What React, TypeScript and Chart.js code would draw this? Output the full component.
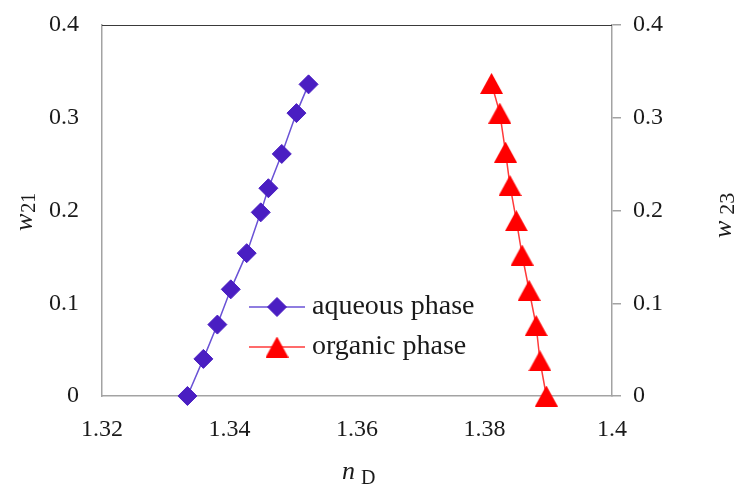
import React, { useEffect, useRef } from 'react';
import { Chart, registerables } from 'chart.js';

Chart.register(...registerables);

// ---- data ----
const aqueousN = [1.3334, 1.3359, 1.3381, 1.3402, 1.3427, 1.3449, 1.3461, 1.3482, 1.3505, 1.3524];
const aqueousW = [0, 0.040, 0.077, 0.115, 0.154, 0.198, 0.224, 0.261, 0.305, 0.336];
const organicN = [1.3897, 1.3887, 1.3881, 1.3870, 1.3859, 1.3850, 1.3840, 1.3833, 1.3824, 1.3811];
const organicW = [0, 0.038, 0.076, 0.114, 0.152, 0.189, 0.227, 0.263, 0.305, 0.337];

const xTicks = [1.32, 1.34, 1.36, 1.38, 1.4];
const xTickLabels = ['1.32', '1.34', '1.36', '1.38', '1.4'];
const yTicks = [0, 0.1, 0.2, 0.3, 0.4];
const yTickLabels = ['0', '0.1', '0.2', '0.3', '0.4'];

const seriesNames = ['aqueous phase', 'organic phase'];
const xTitle = ['n', 'D'];
const yTitleLeft = ['w', '21'];
const yTitleRight = ['w', '23'];

const FONT = '"Liberation Serif", "Times New Roman", serif';
const PURPLE = '#4a1ec2';
const PURPLE_LINE = '#6a52d6';
const RED = '#ff0000';
const RED_LINE = '#ff3a3a';
const AXIS = '#a3a3a3';
const TEXT = '#1a1a1a';

function makeTriangle(color: string, w: number, h: number) {
  const c = document.createElement('canvas');
  c.width = w;
  c.height = h;
  const g = c.getContext('2d')!;
  g.fillStyle = color;
  g.beginPath();
  g.moveTo(w / 2, 0);
  g.lineTo(w, h);
  g.lineTo(0, h);
  g.closePath();
  g.fill();
  return c;
}

function drawDiamond(ctx: CanvasRenderingContext2D, x: number, y: number, r: number, color: string) {
  ctx.save();
  ctx.fillStyle = color;
  ctx.strokeStyle = color;
  ctx.lineWidth = 1;
  ctx.beginPath();
  ctx.moveTo(x - r, y);
  ctx.lineTo(x, y - r);
  ctx.lineTo(x + r, y);
  ctx.lineTo(x, y + r);
  ctx.closePath();
  ctx.fill();
  ctx.stroke();
  ctx.restore();
}

export default function App() {
  const ref = useRef<HTMLCanvasElement | null>(null);

  useEffect(() => {
    document.body.style.margin = '0';
    const canvas = ref.current;
    if (!canvas) return;
    const tri = makeTriangle(RED, 23, 21);

    const overlay = {
      id: 'overlay',
      afterDraw(chart: any) {
        const ctx: CanvasRenderingContext2D = chart.ctx;
        const a = chart.chartArea;
        ctx.save();
        // top border of plot area
        ctx.strokeStyle = '#3a3a3a';
        ctx.lineWidth = 1;
        ctx.beginPath();
        ctx.moveTo(a.left, Math.round(a.top) + 0.5);
        ctx.lineTo(a.right, Math.round(a.top) + 0.5);
        ctx.stroke();

        // legend
        const lx0 = 249, lx1 = 305, mx = 277, tx = 312;
        const rows = [307, 347];
        ctx.lineWidth = 1.5;
        ctx.strokeStyle = PURPLE_LINE;
        ctx.beginPath();
        ctx.moveTo(lx0, rows[0]);
        ctx.lineTo(lx1, rows[0]);
        ctx.stroke();
        drawDiamond(ctx, mx, rows[0], 9.5, PURPLE);
        ctx.strokeStyle = RED_LINE;
        ctx.beginPath();
        ctx.moveTo(lx0, rows[1]);
        ctx.lineTo(lx1, rows[1]);
        ctx.stroke();
        ctx.drawImage(tri, mx - tri.width / 2, rows[1] - tri.height / 2);
        ctx.fillStyle = TEXT;
        ctx.font = `28px ${FONT}`;
        ctx.textAlign = 'left';
        ctx.textBaseline = 'middle';
        ctx.fillText(seriesNames[0], tx, rows[0]);
        ctx.fillText(seriesNames[1], tx, rows[1]);

        // axis titles
        ctx.textBaseline = 'alphabetic';
        // x title
        ctx.font = `italic 26px ${FONT}`;
        ctx.fillText(xTitle[0], 342, 479);
        ctx.font = `20px ${FONT}`;
        ctx.fillText(xTitle[1], 361, 484);

        // left y title
        ctx.save();
        ctx.translate(32, 231);
        ctx.rotate(-Math.PI / 2);
        ctx.font = `italic 26px ${FONT}`;
        ctx.fillText(yTitleLeft[0], 0, 0);
        let w = ctx.measureText(yTitleLeft[0]).width;
        ctx.font = `20px ${FONT}`;
        ctx.fillText(yTitleLeft[1], w + 1, 3);
        ctx.restore();

        // right y title
        ctx.save();
        ctx.translate(731, 238);
        ctx.rotate(-Math.PI / 2);
        ctx.font = `italic 26px ${FONT}`;
        ctx.fillText(yTitleRight[0], 0, 0);
        w = ctx.measureText(yTitleRight[0]).width;
        ctx.font = `22px ${FONT}`;
        ctx.fillText(yTitleRight[1], w + 6, 3);
        ctx.restore();

        ctx.restore();
      },
    };

    const tickFont = { family: FONT, size: 24 };

    const chart = new Chart(canvas, {
      type: 'line',
      data: {
        datasets: [
          {
            label: seriesNames[0],
            data: aqueousN.map((x, i) => ({ x, y: aqueousW[i] })),
            borderColor: PURPLE_LINE,
            borderWidth: 1.5,
            backgroundColor: PURPLE,
            pointStyle: 'rectRot',
            pointRadius: 9.5,
            pointBorderWidth: 1,
            pointBorderColor: PURPLE,
            pointBackgroundColor: PURPLE,
            tension: 0,
            clip: false,
            yAxisID: 'y',
          },
          {
            label: seriesNames[1],
            data: organicN.map((x, i) => ({ x, y: organicW[i] })),
            borderColor: RED_LINE,
            borderWidth: 1.5,
            backgroundColor: RED,
            pointStyle: tri as any,
            pointRadius: 11,
            tension: 0,
            clip: false,
            yAxisID: 'y2',
          },
        ],
      },
      options: {
        responsive: false,
        animation: false,
        devicePixelRatio: 1,
        layout: { padding: { top: 25, left: 0, right: 0, bottom: 0 } },
        plugins: { legend: { display: false }, tooltip: { enabled: false } },
        scales: {
          x: {
            type: 'linear',
            position: 'bottom',
            min: 1.32,
            max: 1.4,
            afterBuildTicks: (s: any) => {
              s.ticks = xTicks.map((v) => ({ value: v }));
            },
            afterFit: (s: any) => {
              s.height = 88;
              s.paddingLeft = 0;
              s.paddingRight = 0;
            },
            ticks: {
              callback: (_v: any, i: number) => xTickLabels[i],
              font: tickFont,
              color: TEXT,
              padding: 19,
              maxRotation: 0,
              autoSkip: false,
            },
            grid: { display: false, drawTicks: false },
            border: { display: true, color: AXIS, width: 1.5 },
          },
          y: {
            type: 'linear',
            position: 'left',
            min: 0,
            max: 0.4,
            afterBuildTicks: (s: any) => {
              s.ticks = yTicks.map((v) => ({ value: v }));
            },
            afterFit: (s: any) => {
              s.width = 102;
              s.paddingTop = 0;
              s.paddingBottom = 0;
            },
            ticks: {
              callback: (_v: any, i: number) => yTickLabels[i],
              font: tickFont,
              color: TEXT,
              padding: 23,
              autoSkip: false,
            },
            grid: { display: false, drawTicks: false },
            border: { display: true, color: AXIS, width: 1.5 },
          },
          y2: {
            type: 'linear',
            position: 'right',
            min: 0,
            max: 0.4,
            afterBuildTicks: (s: any) => {
              s.ticks = yTicks.map((v) => ({ value: v }));
            },
            afterFit: (s: any) => {
              s.width = 124;
              s.paddingTop = 0;
              s.paddingBottom = 0;
            },
            ticks: {
              callback: (_v: any, i: number) => yTickLabels[i],
              font: tickFont,
              color: TEXT,
              padding: 12,
              autoSkip: false,
            },
            grid: {
              display: true,
              drawOnChartArea: false,
              drawTicks: true,
              tickLength: 9,
              color: AXIS,
              lineWidth: 1.5,
            },
            border: { display: true, color: AXIS, width: 1.5 },
          },
        },
      },
      plugins: [overlay],
    } as any);

    return () => {
      chart.destroy();
    };
  }, []);

  return (
    <div style={{ width: 736, height: 484 }}>
      <canvas ref={ref} width={736} height={484} style={{ display: 'block' }} />
    </div>
  );
}
